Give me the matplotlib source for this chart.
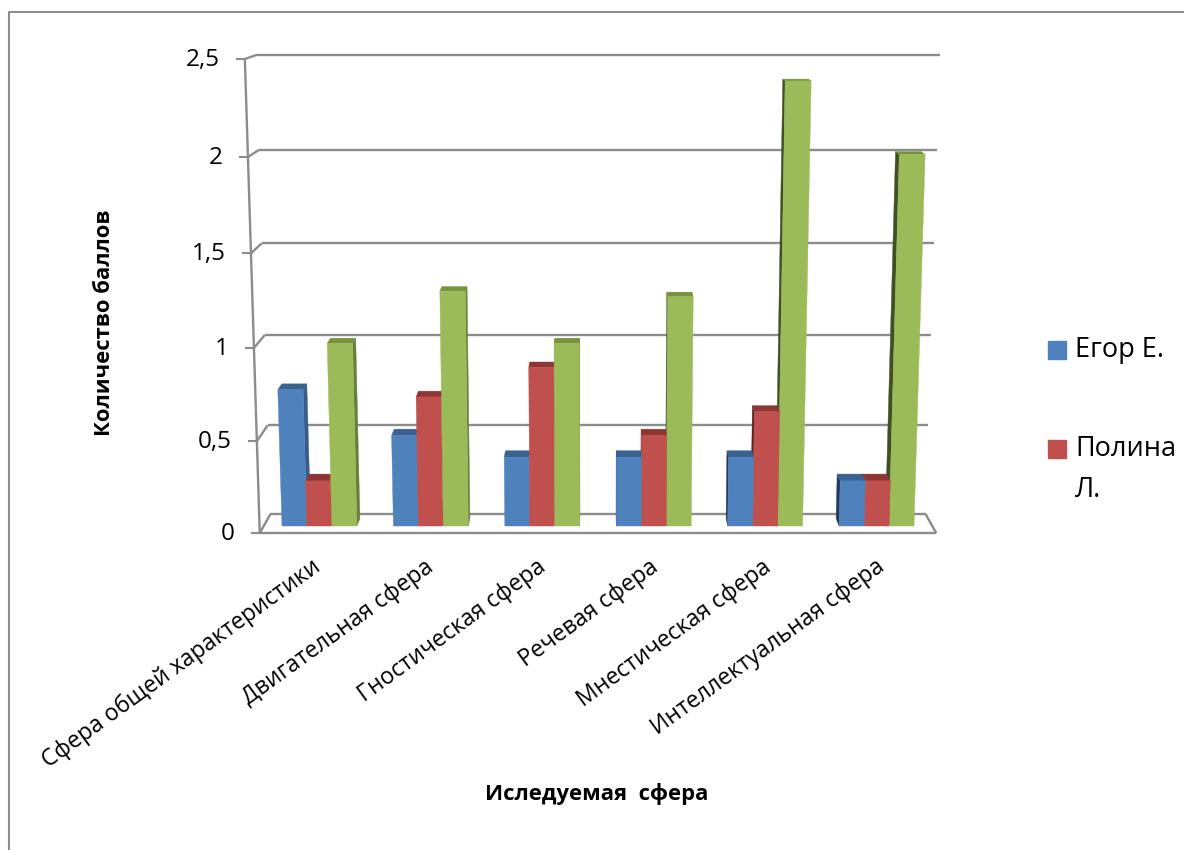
import matplotlib
matplotlib.use("Agg")
import matplotlib.pyplot as plt

plt.rcParams['font.family'] = ['Open Sans', 'DejaVu Sans']

categories = ["Сфера общей характеристики", "Двигательная сфера", "Гностическая сфера",
              "Речевая сфера", "Мнестическая сфера", "Интеллектуальная сфера"]
egor = [0.75, 0.5, 0.38, 0.38, 0.38, 0.25]
polina = [0.25, 0.71, 0.87, 0.5, 0.63, 0.25]
third = [1, 1.28, 1, 1.25, 2.38, 2]
y_ticks = [0, 0.5, 1, 1.5, 2, 2.5]
y_labels = ["0", "0,5", "1", "1,5", "2", "2,5"]

GRID = "#8c8c8c"
# front, top, outer side facing right, outer side facing left
BLUE = ("#4f81bd", "#3a6291", "#385d8a", "#22395a")
RED = ("#c0504d", "#8f3634", "#8a3432", "#5c2220")
GREEN = ("#9bbb59", "#76923c", "#66803a", "#414f24")


def project(u, v, d):
    # fake excel 3d view: u = category position, v = value, d = depth (0 front, 1 back wall)
    height = 175.9 * v + 3.07 * v * v
    xb = 598 + (u - 3) * 109.17 * (1 + 0.0176 * v)
    yb = 514 - height
    s = 1 + 0.0328 * (1 - d)
    return 598 + (xb - 598) * s, -67 + (yb + 67) * s


def face(ax, corners, color, **kw):
    pts = [project(*c) for c in corners]
    ax.fill([p[0] for p in pts], [p[1] for p in pts], color=color, lw=0.3, **kw)


def line(ax, a, b, **kw):
    pa, pb = project(*a), project(*b)
    ax.plot([pa[0], pb[0]], [pa[1], pb[1]], color=GRID, lw=1.7, solid_capstyle="butt", **kw)


fig = plt.figure(figsize=(11.84, 8.5), dpi=100)
ax = fig.add_axes([0, 0, 1, 1])
ax.set_xlim(0, 1184)
ax.set_ylim(850, 0)
ax.axis("off")

# outer chart frame
ax.plot([9, 9, 1184], [850, 12, 12], color=GRID, lw=1.5)

# walls and floor
for v in y_ticks:
    line(ax, (0, v, 1), (6, v, 1))
    line(ax, (0, v, 1), (0, v, 0))
    px, py = project(0, v, 0)
    ax.plot([px - 8, px], [py, py], color=GRID, lw=1.5)
    ax.text(px - 25, py + 1, y_labels[y_ticks.index(v)], ha="right", va="center", fontsize=17.5)
line(ax, (0, 0, 0), (0, 2.5, 0))
line(ax, (0, 0, 0), (6, 0, 0))
line(ax, (6, 0, 0), (6, 0, 1))

# bars, the ones furthest from the middle go first
D0, D1 = 0.37, 0.76
BAR = 0.224
bars = []
for i in range(len(categories)):
    for j, (vals, cols) in enumerate([(egor, BLUE), (polina, RED), (third, GREEN)]):
        u0 = i + 0.5 + (j - 1.5) * BAR
        bars.append((u0, vals[i], cols))
bars.sort(key=lambda b: -abs(b[0] + BAR / 2 - 3))

for u0, v, cols in bars:
    u1 = u0 + BAR
    if u1 < 3:
        face(ax, [(u1, 0, D0), (u1, v, D0), (u1, v, D1), (u1, 0, D1)], cols[2], zorder=3)
    elif u0 > 3:
        face(ax, [(u0, 0, D0), (u0, v, D0), (u0, v, D1), (u0, 0, D1)], cols[3], zorder=3)
    face(ax, [(u0, v, D0), (u1, v, D0), (u1, v, D1), (u0, v, D1)], cols[1], zorder=3)
    face(ax, [(u0, 0, D0), (u1, 0, D0), (u1, v, D0), (u0, v, D0)], cols[0], zorder=3)

# category labels
for i, name in enumerate(categories):
    px, py = project(i + 0.5, 0, 0)
    ax.text(px - 5, py + 22, name, rotation=36, rotation_mode="anchor", ha="right", va="top", fontsize=16.6)

ax.text(104, 323, "Количество баллов", rotation=90, ha="center", va="center", fontsize=15.8, fontweight="bold")
ax.text(597, 794, "Иследуемая  сфера", ha="center", va="center", fontsize=15.8, fontweight="bold")

# legend (third entry is cut off in the source)
ax.fill([1048, 1066, 1066, 1048], [341, 341, 359, 359], color=BLUE[0])
ax.fill([1048, 1066, 1066, 1048], [440, 440, 458, 458], color=RED[0])
ax.text(1075, 350, "Егор Е.", va="center", fontsize=19.5)
ax.text(1075, 449, "Полина", va="center", fontsize=19.5)
ax.text(1075, 490, "Л.", va="center", fontsize=19.5)

fig.savefig("out.png", dpi=100)
